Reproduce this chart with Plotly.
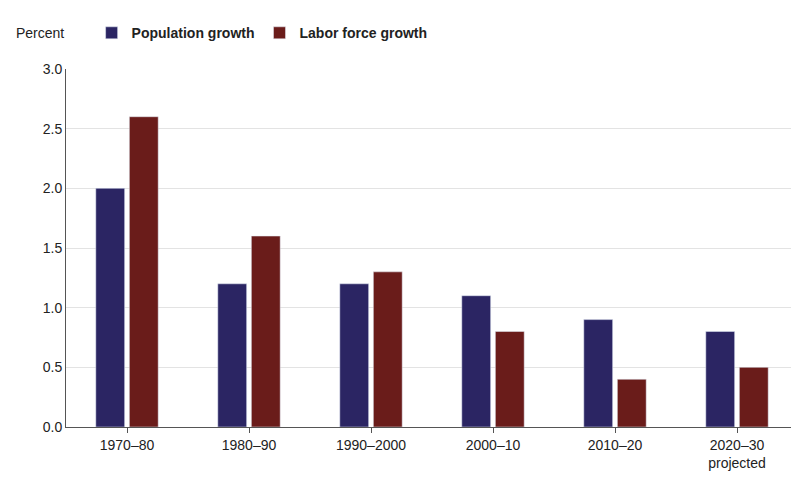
import plotly.graph_objects as go

periods = ["1970–80", "1980–90", "1990–2000", "2000–10", "2010–20", "2020–30<br>projected"]
population_growth = [2.0, 1.2, 1.2, 1.1, 0.9, 0.8]
labor_force_growth = [2.6, 1.6, 1.3, 0.8, 0.4, 0.5]

fig = go.Figure()
fig.add_trace(go.Bar(x=periods, y=population_growth, name="<b>Population growth</b>",
                     marker_color="#2b2563"))
fig.add_trace(go.Bar(x=periods, y=labor_force_growth, name="<b>Labor force growth</b>",
                     marker_color="#6a1c1a"))

fig.update_layout(
    width=799, height=479,
    margin=dict(l=58, r=9, t=55, b=60),
    paper_bgcolor="white", plot_bgcolor="white",
    font=dict(family="Liberation Sans, Arial", size=14, color="#222"),
    barmode="group", bargap=0.45, bargroupgap=0.14,
    showlegend=True,
    legend=dict(orientation="h", x=0.035, y=1.1, xref="paper", yref="paper",
                yanchor="middle", font=dict(size=14)),
    annotations=[dict(text="Percent", x=0, y=1.1, xref="paper", yref="paper",
                      xanchor="left", yanchor="middle", showarrow=False,
                      xshift=-52, font=dict(size=14))],
    yaxis=dict(range=[0, 3.0], dtick=0.5, tickformat=".1f", gridcolor="#e3e3e3",
               showline=True, linecolor="#555", zeroline=False),
    xaxis=dict(showline=True, linecolor="#555", ticks="outside", tickcolor="#555"),
)

fig.write_html("out.html")
